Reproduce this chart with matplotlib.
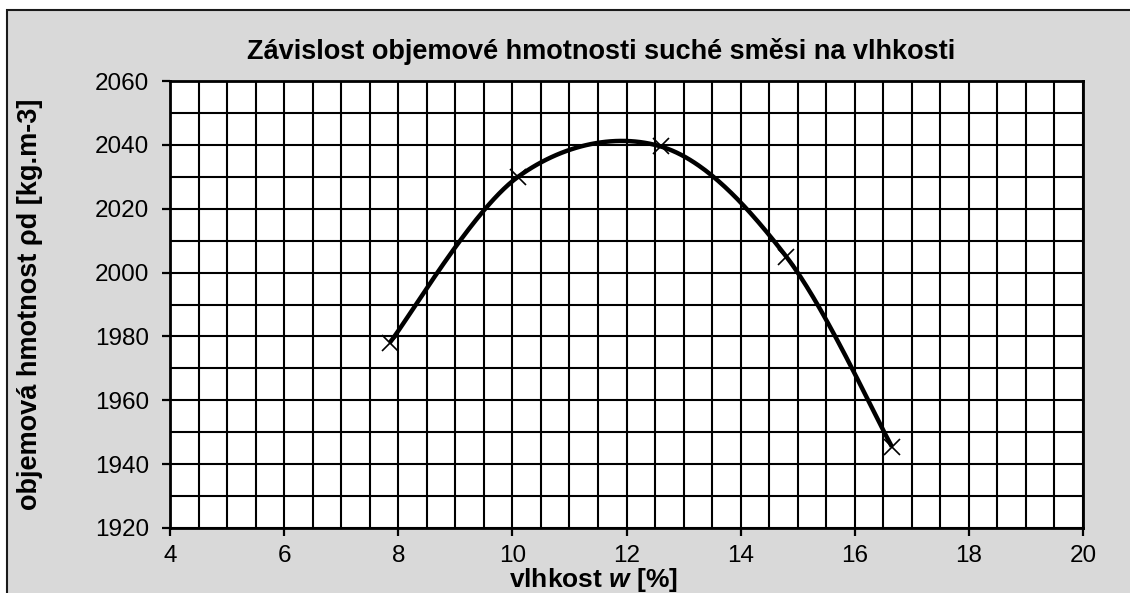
import numpy as np
import matplotlib
matplotlib.use("Agg")
import matplotlib.pyplot as plt
from matplotlib.patches import Rectangle

# Data
w = [7.85, 10.1, 12.6, 14.8, 16.65]
rho = [1978.0, 2030.0, 2039.5, 2005.0, 1945.5]
title = "Závislost objemové hmotnosti suché směsi na vlhkosti"
xlabel = "vlhkost $\\bfit{w}$ [%]"
ylabel = "objemová hmotnost ρd [kg.m-3]"

plt.rcParams['font.family'] = ['Liberation Sans', 'DejaVu Sans']
plt.rcParams['mathtext.fontset'] = 'custom'
plt.rcParams['mathtext.bfit'] = 'Liberation Sans:bold:italic'

W, H = 1130, 593
fig = plt.figure(figsize=(W/100, H/100), dpi=100, facecolor='white')

# Gray chart frame
frame = Rectangle((7/W, -0.1), 1.2, 1 - 10/H + 0.1, transform=fig.transFigure,
                  facecolor='#d9d9d9', edgecolor='#1a1a1a', linewidth=1.5, zorder=-5)
fig.add_artist(frame)

L, R, T, B = 170, 1083, 81, 528
ax = fig.add_axes([L/W, 1 - B/H, (R-L)/W, (B-T)/H])
ax.set_zorder(1)
ax.set_facecolor('white')


def catmull_rom(xs, ys, n=60):
    P = np.column_stack([xs, ys])
    out = []
    k = len(P)
    for i in range(k - 1):
        p0, p1 = P[i], P[i+1]
        m0 = (P[i+1] - P[i-1]) / 2 if i > 0 else (P[1] - P[0]) / 2
        m1 = (P[i+2] - P[i]) / 2 if i + 2 < k else (P[-1] - P[-2]) / 2
        t = np.linspace(0, 1, n)[:, None]
        h00 = 2*t**3 - 3*t**2 + 1
        h10 = t**3 - 2*t**2 + t
        h01 = -2*t**3 + 3*t**2
        h11 = t**3 - t**2
        out.append(h00*p0 + h10*m0 + h01*p1 + h11*m1)
    return np.vstack(out)

curve = catmull_rom(np.array(w), np.array(rho))
ax.plot(curve[:, 0], curve[:, 1], color='black', linewidth=3.2, zorder=3, solid_capstyle='butt')
ax.plot(w, rho, linestyle='none', marker='x', color='black', markersize=11, markeredgewidth=1.2, zorder=4)

ax.set_xlim(4, 20)
ax.set_ylim(1920, 2060)
ax.set_xticks(np.arange(4, 20.1, 2))
ax.set_yticks(np.arange(1920, 2060.1, 20))
ax.set_xticks(np.arange(4, 20.1, 0.5), minor=True)
ax.set_yticks(np.arange(1920, 2060.1, 10), minor=True)
ax.grid(True, which='both', color='black', linewidth=1.5)
ax.set_axisbelow(True)
ax.tick_params(which='major', direction='out', length=6, width=1.6, labelsize=17.5, colors='black')
ax.tick_params(axis='y', pad=9)
ax.tick_params(axis='x', pad=6)
ax.tick_params(which='minor', length=0)
for s in ax.spines.values():
    s.set_linewidth(2.0)
    s.set_color('black')

ax.set_title(title, fontsize=19.5, fontweight='bold', pad=16, x=(601 - L) / (R - L))
ax.set_xlabel(xlabel, fontsize=19, fontweight='bold', va='center')
ax.set_ylabel(ylabel, fontsize=19.5, fontweight='bold', va='center')
ax.xaxis.set_label_coords((593 - L) / (R - L), (B - 580) / (B - T))
ax.yaxis.set_label_coords((30 - L) / (R - L), 0.5)

fig.savefig('out.png', dpi=100, facecolor='white')
